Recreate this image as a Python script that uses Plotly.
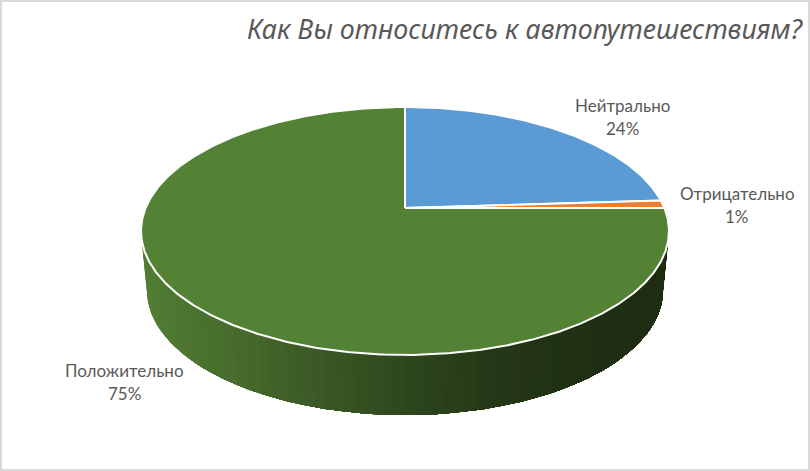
import numpy as np
import plotly.graph_objects as go

# Data
categories = ["Нейтрально", "Отрицательно", "Положительно"]
values = [24, 1, 75]
percent_labels = ["24%", "1%", "75%"]
slice_colors = ["#5B9BD5", "#ED7D31", "#548235"]
title_text = "Как Вы относитесь к автопутешествиям?"
label_xy = [(622, 105, 128), (737, 193, 216), (124, 370, 393)]

# Side-wall shading, left to right
shade_pos = [141, 170, 240, 300, 360, 405, 470, 530, 600, 669]
shade_rgb = [(82, 126, 52), (78, 120, 49), (70, 106, 44), (61, 93, 39), (52, 80, 33),
             (46, 71, 30), (39, 60, 25), (34, 52, 21), (31, 47, 19), (31, 46, 18)]

# Drawing geometry (pixel space)
W, H = 810, 471
CX, APEX_Y = 405, 208
TILT, A, B = 0.1855, 119.7, 259.4
TOP = (264, 231, 124)      # rx, cy, ry of the upper rim
BOT = (258, 290, 125)      # rx, cy, ry of the lower rim


def rim(theta):
    u, v = np.sin(theta), np.cos(theta)
    d = 1 + TILT * v
    return CX + B * u / d, APEX_Y - A * v / d


fig = go.Figure()


def poly(xs, ys, fill, line=None, width=1.0):
    fig.add_trace(go.Scatter(x=xs, y=ys, mode="lines", fill="toself", fillcolor=fill,
                             line=dict(color=line or fill, width=width),
                             hoverinfo="skip", showlegend=False))


# Side wall: painted left to right, each shade covering everything still to its right
ts = np.linspace(np.pi, 0, 81)
for i, t0 in enumerate(ts[:-1]):
    tm = (t0 + ts[i + 1]) / 2
    xm = CX + TOP[0] * np.cos(tm)
    r, g, b = [np.interp(xm, shade_pos, [c[k] for c in shade_rgb]) for k in range(3)]
    col = f"rgb({r:.0f},{g:.0f},{b:.0f})"
    arc = ts[i:]
    xs = [*(CX + TOP[0] * np.cos(arc)), *(CX + BOT[0] * np.cos(arc[::-1]))]
    ys = [*(TOP[1] + TOP[2] * np.sin(arc)), *(BOT[1] + BOT[2] * np.sin(arc[::-1]))]
    poly(xs, ys, col, width=0)

# Top face slices, clockwise from twelve o'clock
total = sum(values)
start = 0.0
for val, color in zip(values, slice_colors):
    end = start + val / total * 2 * np.pi
    th = np.linspace(start, end, max(int(val * 6), 8))
    rx, ry = rim(th)
    poly([CX, *rx, CX], [APEX_Y, *ry, APEX_Y], color, "#FFFFFF", 2)
    start = end

# Labels
annotations = []
LABEL_FONT = dict(family="Lato, Open Sans, sans-serif", size=17, color="#595959")
for name, pct, (x, y1, y2) in zip(categories, percent_labels, label_xy):
    annotations.append(dict(x=x, y=y1, text=name, showarrow=False, font=LABEL_FONT, xanchor="center", yanchor="middle"))
    annotations.append(dict(x=x, y=y2, text=pct, showarrow=False, font=LABEL_FONT, xanchor="center", yanchor="middle"))
annotations.append(dict(x=805, y=28, text=f"<i>{title_text}</i>", showarrow=False, xanchor="right", yanchor="middle",
                        font=dict(family="Noto Sans, Open Sans, sans-serif", size=26.8, color="#595959")))

fig.update_layout(
    width=W, height=H, margin=dict(l=0, r=0, t=0, b=0),
    paper_bgcolor="white", plot_bgcolor="white", showlegend=False,
    xaxis=dict(range=[0, W], visible=False, fixedrange=True),
    yaxis=dict(range=[H, 0], visible=False, fixedrange=True),
    annotations=annotations,
    shapes=[dict(type="rect", x0=1, y0=1, x1=W - 1, y1=H - 1, line=dict(color="#D9D9D9", width=2), layer="above")],
)
fig.write_html("out.html", config=dict(displayModeBar=False),
               post_script="document.body.style.margin='0';document.documentElement.style.overflow='hidden';")
